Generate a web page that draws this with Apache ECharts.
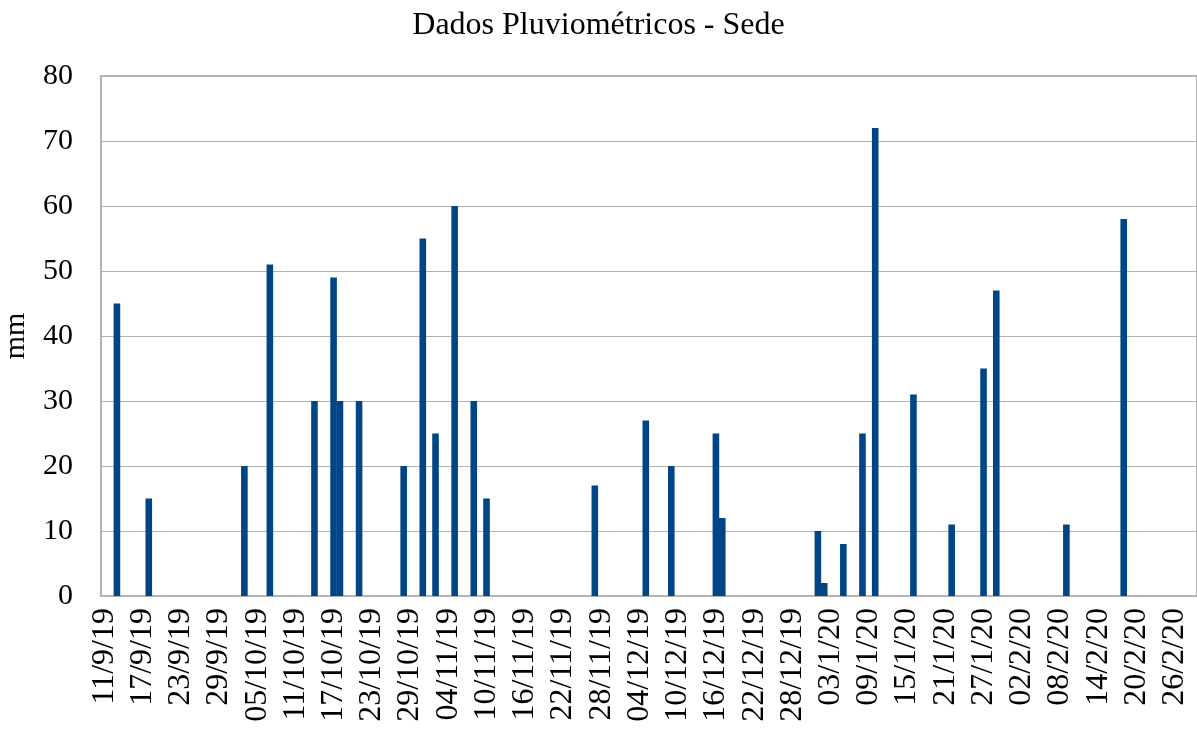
<!DOCTYPE html>
<html>
<head>
<meta charset="utf-8">
<script src="https://cdn.jsdelivr.net/npm/echarts@6/dist/echarts.min.js"></script>
<style>
html,body{margin:0;padding:0;background:#fff;}
#chart{width:1197px;height:731px;}
</style>
</head>
<body>
<div id="chart"></div>
<script>
// Daily category range (dd/m/yy)
var startDate = [2019, 9, 11];
var endDate = [2020, 2, 29];

// Rain events
var rainDates = ['13/9/19','18/9/19','03/10/19','07/10/19','14/10/19','17/10/19','18/10/19','21/10/19',
  '28/10/19','31/10/19','02/11/19','05/11/19','08/11/19','10/11/19','27/11/19','05/12/19','09/12/19',
  '16/12/19','17/12/19','01/1/20','02/1/20','05/1/20','08/1/20','10/1/20','16/1/20','22/1/20',
  '27/1/20','29/1/20','09/2/20','18/2/20'];
var rainValues = [45,15,20,51,30,49,30,30,
  20,55,25,60,30,15,17,27,20,
  25,12,10,2,8,25,72,31,11,
  35,47,11,58];

var yTicks = [0,10,20,30,40,50,60,70,80];

function fmt(d){
  var dd = d.getDate(); var m = d.getMonth()+1; var yy = d.getFullYear()%100;
  return (dd<10?'0':'')+dd+'/'+m+'/'+yy;
}
var categories = [];
(function(){
  var d = new Date(startDate[0], startDate[1]-1, startDate[2]);
  var e = new Date(endDate[0], endDate[1]-1, endDate[2]);
  while (d <= e) { categories.push(fmt(d)); d.setDate(d.getDate()+1); }
})();

var lookup = {};
rainDates.forEach(function(k,i){ lookup[k] = rainValues[i]; });
var seriesData = categories.map(function(c){ return lookup.hasOwnProperty(c) ? lookup[c] : 0; });

var FONT = '"Liberation Serif", "DejaVu Serif", serif';
var chart = echarts.init(document.getElementById('chart'));
chart.setOption({
  animation: false,
  backgroundColor: '#ffffff',
  title: {
    text: 'Dados Pluviométricos - Sede',
    left: 'center', top: 5,
    textStyle: {fontFamily: FONT, fontSize: 32, fontWeight: 'normal', color: '#000'}
  },
  grid: {left: 101, right: 0, top: 76, bottom: 135, containLabel: false, outerBoundsMode: 'none',
    show: true, borderColor: '#b3b3b3', borderWidth: 2, backgroundColor: 'transparent'},
  xAxis: {
    type: 'category',
    data: categories,
    boundaryGap: true,
    axisLine: {show: true, lineStyle: {color: '#b3b3b3', width: 2}},
    axisTick: {show: false},
    axisLabel: {interval: 5, rotate: 90, margin: 12, fontFamily: FONT, fontSize: 32, color: '#000', hideOverlap: false},
    splitLine: {show: false}
  },
  yAxis: {
    type: 'value',
    min: yTicks[0], max: yTicks[yTicks.length-1], interval: 10,
    name: 'mm', nameLocation: 'middle', nameGap: 70, nameRotate: 90,
    nameTextStyle: {fontFamily: FONT, fontSize: 30, color: '#000'},
    axisLine: {show: true, lineStyle: {color: '#b3b3b3', width: 2}},
    axisTick: {show: false},
    axisLabel: {margin: 28, fontFamily: FONT, fontSize: 30, color: '#000'},
    splitLine: {show: true, lineStyle: {color: '#b3b3b3', width: 1}}
  },
  series: [{
    type: 'bar',
    data: seriesData,
    barWidth: 6.6,
    itemStyle: {color: '#004586'}
  }]
});
</script>
</body>
</html>
